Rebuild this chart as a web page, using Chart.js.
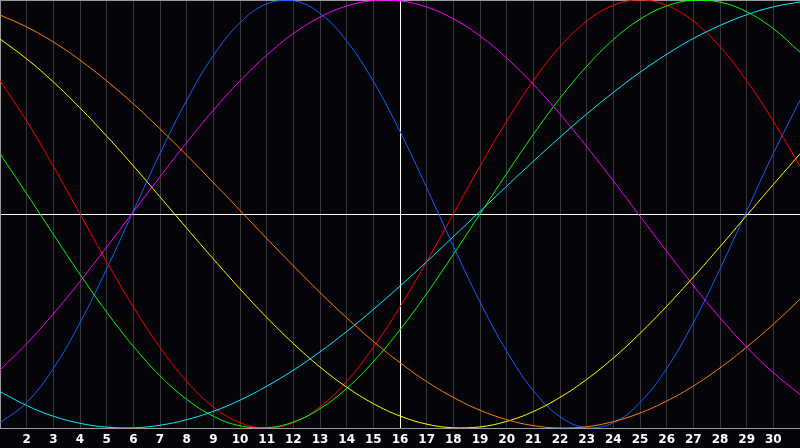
<!DOCTYPE html>
<html><head><meta charset="utf-8">
<script src="https://cdn.jsdelivr.net/npm/chart.js@4/dist/chart.umd.min.js"></script>
<style>html,body{margin:0;padding:0;background:#050408;}#wrap{width:800px;height:448px;}</style>
</head><body><div id="wrap"><canvas id="c" width="800" height="448"></canvas></div>
<script>
const days = [1,2,3,4,5,6,7,8,9,10,11,12,13,14,15,16,17,18,19,20,21,22,23,24,25,26,27,28,29,30,31];
const tickLabels = ['2','3','4','5','6','7','8','9','10','11','12','13','14','15','16','17','18','19','20','21','22','23','24','25','26','27','28','29','30'];
const blue = [-0.976,-0.881,-0.722,-0.508,-0.257,0.014,0.283,0.531,0.740,0.894,0.982,0.997,0.938,0.809,0.620,0.386,0.123,-0.150,-0.411,-0.641,-0.825,-0.947,-0.999,-0.976,-0.881,-0.722,-0.508,-0.257,0.014,0.283,0.531];
const red = [0.623,0.434,0.223,0,-0.223,-0.434,-0.623,-0.782,-0.901,-0.975,-1,-0.975,-0.901,-0.782,-0.623,-0.434,-0.223,0,0.223,0.434,0.623,0.782,0.901,0.975,1,0.975,0.901,0.782,0.623,0.434,0.223];
const green = [0.282,0.095,-0.095,-0.282,-0.458,-0.618,-0.756,-0.866,-0.945,-0.990,-0.999,-0.972,-0.910,-0.815,-0.690,-0.541,-0.372,-0.189,0,0.189,0.372,0.541,0.690,0.815,0.910,0.972,0.999,0.990,0.945,0.866,0.756];
const magenta = [-0.729,-0.606,-0.467,-0.315,-0.155,0.010,0.174,0.334,0.485,0.622,0.742,0.843,0.920,0.972,0.997,0.996,0.967,0.912,0.832,0.729,0.606,0.467,0.315,0.155,-0.010,-0.174,-0.334,-0.485,-0.622,-0.742,-0.843];
const yellow = [0.818,0.725,0.617,0.496,0.364,0.225,0.080,-0.066,-0.210,-0.350,-0.483,-0.605,-0.715,-0.809,-0.886,-0.944,-0.982,-0.999,-0.995,-0.969,-0.923,-0.857,-0.773,-0.673,-0.558,-0.431,-0.295,-0.153,-0.007,0.138,0.281];
const orange = [0.930,0.874,0.804,0.719,0.622,0.515,0.398,0.275,0.147,0.017,-0.114,-0.242,-0.367,-0.485,-0.595,-0.695,-0.783,-0.857,-0.917,-0.961,-0.989,-1.000,-0.994,-0.970,-0.930,-0.874,-0.804,-0.719,-0.622,-0.515,-0.398];
const cyan = [-0.830,-0.895,-0.945,-0.978,-0.996,-0.999,-0.987,-0.961,-0.922,-0.870,-0.805,-0.730,-0.644,-0.549,-0.446,-0.337,-0.223,-0.106,0.012,0.130,0.246,0.359,0.467,0.568,0.662,0.746,0.820,0.881,0.931,0.968,0.991];

const series = [
  ['orange', orange, '#ff7f00'],
  ['yellow', yellow, '#ffff00'],
  ['cyan', cyan, '#00f0ff'],
  ['magenta', magenta, '#ff00ff'],
  ['green', green, '#00ff00'],
  ['red', red, '#ff0000'],
  ['blue', blue, '#1060ff']
];
const datasets = series.map(([name, vals, col]) => ({
  label: name,
  data: days.map((d, i) => ({x: d, y: vals[i]})),
  borderColor: col,
  borderWidth: 1,
  pointRadius: 0,
  tension: 0.4,
  fill: false
}));

const bgPlugin = {
  id: 'bg',
  beforeDraw(chart) {
    const ctx = chart.ctx;
    ctx.save();
    ctx.fillStyle = '#050408';
    ctx.fillRect(0, 0, chart.width, chart.height);
    ctx.restore();
  }
};

new Chart(document.getElementById('c'), {
  type: 'line',
  data: { datasets },
  plugins: [bgPlugin],
  options: {
    responsive: false,
    devicePixelRatio: 1,
    animation: false,
    layout: { padding: 0 },
    plugins: { legend: { display: false }, tooltip: { enabled: false } },
    scales: {
      x: {
        type: 'linear', min: 1, max: 31,
        afterFit: s => { s.height = 20; },
        ticks: {
          stepSize: 1, autoSkip: false, maxRotation: 0, padding: 0,
          color: '#ffffff',
          font: { family: 'DejaVu Sans', size: 12, weight: 'bold' },
          callback: v => tickLabels.includes(String(v)) ? String(v) : ''
        },
        grid: {
          drawTicks: true,
          tickLength: 5,
          tickColor: 'transparent',
          color: c => c.tick && c.tick.value === 16 ? '#ffffff' : (c.tick && (c.tick.value === 1 || c.tick.value === 31) ? 'transparent' : '#38363a'),
          lineWidth: 1
        },
        border: { display: true, color: '#9a9a9a', width: 1 }
      },
      xTop: {
        type: 'linear', position: 'top', min: 1, max: 31,
        afterFit: s => { s.height = 0; },
        ticks: { display: false, padding: 0 },
        grid: { display: false, drawTicks: false },
        border: { display: true, color: '#9a9a9a', width: 2 }
      },
      y: {
        min: -1, max: 1,
        afterFit: s => { s.width = 0; },
        ticks: { display: false, stepSize: 1, padding: 0 },
        grid: {
          drawTicks: false,
          color: c => c.tick && c.tick.value === 0 ? '#ffffff' : 'transparent',
          lineWidth: 1
        },
        border: { display: true, color: '#9a9a9a', width: 2 }
      }
    }
  }
});
</script></body></html>
